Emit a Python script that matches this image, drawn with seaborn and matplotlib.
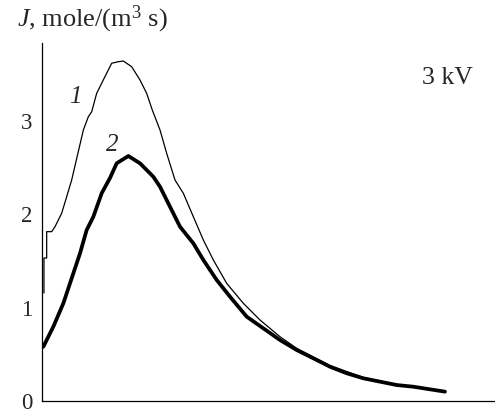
import matplotlib
matplotlib.use("Agg")
import matplotlib.pyplot as plt
import seaborn as sns
import pandas as pd

# Curve 1 (thin)
x1 = [0.013, 0.013, 0.031, 0.031, 0.064, 0.086, 0.130, 0.163, 0.196, 0.273, 0.306, 0.328,
      0.361, 0.394, 0.427, 0.460, 0.504, 0.537, 0.592, 0.647, 0.691, 0.728, 0.779, 0.823,
      0.878, 0.933, 0.999, 1.065, 1.131, 1.219, 1.329, 1.439, 1.571, 1.681, 1.901, 2.121,
      2.341, 2.660]
y1 = [1.156, 1.531, 1.531, 1.813, 1.813, 1.866, 2.010, 2.187, 2.366, 2.901, 3.044, 3.097,
      3.294, 3.402, 3.509, 3.616, 3.633, 3.640, 3.579, 3.437, 3.294, 3.116, 2.902, 2.652,
      2.366, 2.224, 1.973, 1.724, 1.510, 1.260, 1.046, 0.867, 0.688, 0.564, 0.380, 0.252,
      0.177, 0.105]
# Curve 2 (thick)
x2 = [0.009, 0.075, 0.141, 0.207, 0.251, 0.295, 0.339, 0.394, 0.449, 0.493, 0.570, 0.647,
      0.735, 0.779, 0.845, 0.911, 0.999, 1.065, 1.153, 1.241, 1.351, 1.571, 1.681, 1.791,
      1.901, 2.011, 2.121, 2.231, 2.341, 2.451, 2.561, 2.660]
y2 = [0.581, 0.796, 1.046, 1.367, 1.581, 1.831, 1.973, 2.224, 2.388, 2.545, 2.623, 2.545,
      2.401, 2.294, 2.080, 1.866, 1.688, 1.510, 1.296, 1.117, 0.903, 0.653, 0.546, 0.457,
      0.367, 0.297, 0.243, 0.207, 0.171, 0.153, 0.125, 0.100]

yticks = [0, 1, 2, 3]
xticks = [1, 2]

sns.set_style("white")
plt.rcParams['font.family'] = ['Liberation Serif', 'DejaVu Serif']
plt.rcParams['mathtext.fontset'] = 'custom'
plt.rcParams['mathtext.rm'] = 'Liberation Serif'
plt.rcParams['mathtext.it'] = 'Liberation Serif:italic'

fig = plt.figure(figsize=(4.95, 4.09), dpi=100)
ax = fig.add_axes([0.0848, 0.01956, 0.9152, 0.8753])

df1 = pd.DataFrame({"x": x1, "y": y1})
df2 = pd.DataFrame({"x": x2, "y": y2})
sns.lineplot(data=df1, x="x", y="y", ax=ax, sort=False, estimator=None, color="black", linewidth=0.9)
sns.lineplot(data=df2, x="x", y="y", ax=ax, sort=False, estimator=None, color="black", linewidth=2.7)

ax.set_xlim(0, 2.99)
ax.set_ylim(0, 3.833)
ax.set_xticks(xticks)
ax.set_xticklabels([])
ax.set_yticks(yticks)
ax.set_yticklabels([str(t) for t in yticks], fontsize=16.5)
ax.tick_params(axis='both', direction='in', length=7, width=0.9, color='black', pad=7)
for s in ['top', 'right']:
    ax.spines[s].set_visible(False)
for s in ['left', 'bottom']:
    ax.spines[s].set_color('black')
    ax.spines[s].set_linewidth(0.9)
ax.set_xlabel("")
ax.set_ylabel("")

fig.text(0.034, 0.952, r"$\mathit{J}$, mole/(m$^3$ s)", fontsize=19, va='center', ha='left')
ax.text(0.218, 3.255, "1", fontsize=18, style='italic', ha='center', va='center')
ax.text(0.462, 2.74, "2", fontsize=18, style='italic', ha='center', va='center')
ax.text(2.673, 3.458, "3 kV", fontsize=18.5, ha='center', va='center')

fig.savefig("out.png", dpi=100)
